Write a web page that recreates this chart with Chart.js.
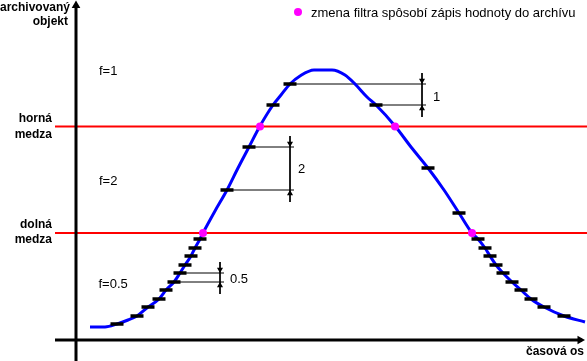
<!DOCTYPE html>
<html><head><meta charset="utf-8">
<script src="https://cdn.jsdelivr.net/npm/chart.js@4/dist/chart.umd.min.js"></script>
<style>html,body{margin:0;padding:0;background:#fff;overflow:hidden}canvas{display:block}</style>
</head><body>
<canvas id="c" width="587" height="361"></canvas>
<script>
// ---- data (arbitrary schematic units: x = time, y = archived object) ----
const curveX = [14,29,41,52,61,72,83,90,98,104,109,115,119,124,127,139,151,162,173,184,197,205,214,224,238,256,269,279,291,300,319,335,352,368,383,396,402,409,414,420,427,436,445,455,468,488,509];
const curveY = [13,13,16,20,24,33,41,50,58,67,75,84,92,101,107,129,150,172,193,214,235,245,256,264,270,270,265,256,243,235,214,193,172,150,127,107,101,92,84,75,67,58,50,41,33,24,18];
// archived values (dashes)
const stepX = [41,61,72,83,90,98,104,109,115,119,124,151,173,197,214,300,352,383,402,409,414,420,427,436,445,455,468,488];
const stepY = [16,24,33,41,50,58,67,75,84,92,101,150,193,235,256,235,172,127,101,92,84,75,67,58,50,41,33,24];
// filter change points
const switchX = [127,184,319,396];
const switchY = [107,213.5,213.5,107];
const upperLimit = 213.5;
const lowerLimit = 107;
// dimension annotations: label, index of upper step, index of lower step
const dimLabels = ['1','2','0.5'];
const dimTop = [14,12,6];
const dimBottom = [15,11,5];
const dimLineX = [346,214,144];
const filterLabels = ['f=1','f=2','f=0.5'];
const legendText = 'zmena filtra spôsobí zápis hodnoty do archívu';

// ---- build datasets ----
const pts = (xs, ys) => xs.map((x, i) => ({x, y: ys[i]}));
const annot = [], arrows = [], arrowRot = [];
dimLabels.forEach((t, k) => {
  const hi = stepY[dimTop[k]], lo = stepY[dimBottom[k]], xv = dimLineX[k];
  annot.push({x: stepX[dimTop[k]], y: hi}, {x: xv + 4, y: hi}, {x: xv + 4, y: null});
  annot.push({x: stepX[dimBottom[k]], y: lo}, {x: xv + 4, y: lo}, {x: xv + 4, y: null});
  annot.push({x: xv, y: hi + 11}, {x: xv, y: lo - 12}, {x: xv, y: null});
  arrows.push({x: xv, y: hi + 3.5}, {x: xv, y: lo - 3.5});
  arrowRot.push(180, 0);
});

const BLACK = '#000000';
const datasets = [
  {data: pts(switchX, switchY), showLine: false, pointRadius: 4, pointBackgroundColor: '#ff00ff', pointBorderWidth: 0, order: 0},
  {data: pts(stepX, stepY), showLine: false, pointStyle: 'line', pointRadius: 6.5, pointBorderWidth: 3.5, pointBorderColor: BLACK, order: 1},
  {data: pts(curveX, curveY), borderColor: '#0000ff', borderWidth: 3, pointRadius: 0, cubicInterpolationMode: 'monotone', order: 2},
  // axes
  {data: [{x: 0, y: -21}, {x: 0, y: 336}], borderColor: BLACK, borderWidth: 3, pointRadius: 0, order: 3},
  {data: [{x: -21, y: 0}, {x: 506, y: 0}], borderColor: BLACK, borderWidth: 3, pointRadius: 0, order: 3},
  {data: [{x: 0, y: 334.5}, {x: 504, y: 0}], showLine: false, pointStyle: 'triangle', pointRadius: 5, pointRotation: [0, 90], pointBackgroundColor: BLACK, pointBorderWidth: 0, order: 3},
  // limits
  {data: [{x: -21, y: upperLimit}, {x: 511, y: upperLimit}], borderColor: '#ff0000', borderWidth: 2, pointRadius: 0, order: 4},
  {data: [{x: -21, y: lowerLimit}, {x: 511, y: lowerLimit}], borderColor: '#ff0000', borderWidth: 2, pointRadius: 0, order: 4},
  // dimension lines
  {data: annot, borderColor: BLACK, borderWidth: 1, pointRadius: 0, spanGaps: false, order: 5},
  {data: arrows, showLine: false, pointStyle: 'triangle', pointRadius: 3.5, pointRotation: arrowRot, pointBackgroundColor: BLACK, pointBorderWidth: 0, order: 5}
];
datasets.forEach(d => { d.clip = false; d.tension = 0; });

const FONT = "'Liberation Sans', Arial, sans-serif";
const texts = [
  {t: 'archivovaný', x: -6, y: 329.5, a: 'right', f: 'bold 12px ' + FONT},
  {t: 'objekt', x: -8, y: 315.5, a: 'right', f: 'bold 12px ' + FONT},
  {t: 'horná', x: -24, y: 218, a: 'right', f: 'bold 12px ' + FONT},
  {t: 'medza', x: -24, y: 202.5, a: 'right', f: 'bold 12px ' + FONT},
  {t: 'dolná', x: -24, y: 112, a: 'right', f: 'bold 12px ' + FONT},
  {t: 'medza', x: -24, y: 97, a: 'right', f: 'bold 12px ' + FONT},
  {t: 'časová os', x: 508, y: -15, a: 'right', f: 'bold 12px ' + FONT},
  {t: filterLabels[0], x: 23, y: 265, a: 'left', f: '13px ' + FONT},
  {t: filterLabels[1], x: 23, y: 155, a: 'left', f: '13px ' + FONT},
  {t: filterLabels[2], x: 22.5, y: 52, a: 'left', f: '13px ' + FONT},
  {t: dimLabels[0], x: 357, y: 239, a: 'left', f: '13px ' + FONT},
  {t: dimLabels[1], x: 222, y: 167, a: 'left', f: '13px ' + FONT},
  {t: dimLabels[2], x: 154, y: 57, a: 'left', f: '13px ' + FONT},
  {t: legendText, x: 235, y: 323, a: 'left', f: '13px ' + FONT}
];

const textPlugin = {
  id: 'texts',
  afterDatasetsDraw(chart) {
    const {ctx, scales: {x, y}} = chart;
    ctx.save();
    ctx.fillStyle = '#000';
    ctx.textBaseline = 'alphabetic';
    texts.forEach(o => {
      ctx.font = o.f;
      ctx.textAlign = o.a;
      ctx.fillText(o.t, x.getPixelForValue(o.x), y.getPixelForValue(o.y));
    });
    // legend marker
    ctx.fillStyle = '#ff00ff';
    ctx.beginPath();
    ctx.arc(x.getPixelForValue(222), y.getPixelForValue(328), 4, 0, Math.PI * 2);
    ctx.fill();
    ctx.restore();
  }
};

new Chart(document.getElementById('c'), {
  type: 'line',
  data: {datasets},
  options: {
    responsive: false,
    devicePixelRatio: 1,
    animation: false,
    events: [],
    layout: {padding: 0, autoPadding: false},
    plugins: {legend: {display: false}, tooltip: {enabled: false}},
    scales: {
      x: {type: 'linear', min: -76, max: 511, display: false},
      y: {type: 'linear', min: -21, max: 340, display: false}
    }
  },
  plugins: [textPlugin]
});
</script>
</body></html>
